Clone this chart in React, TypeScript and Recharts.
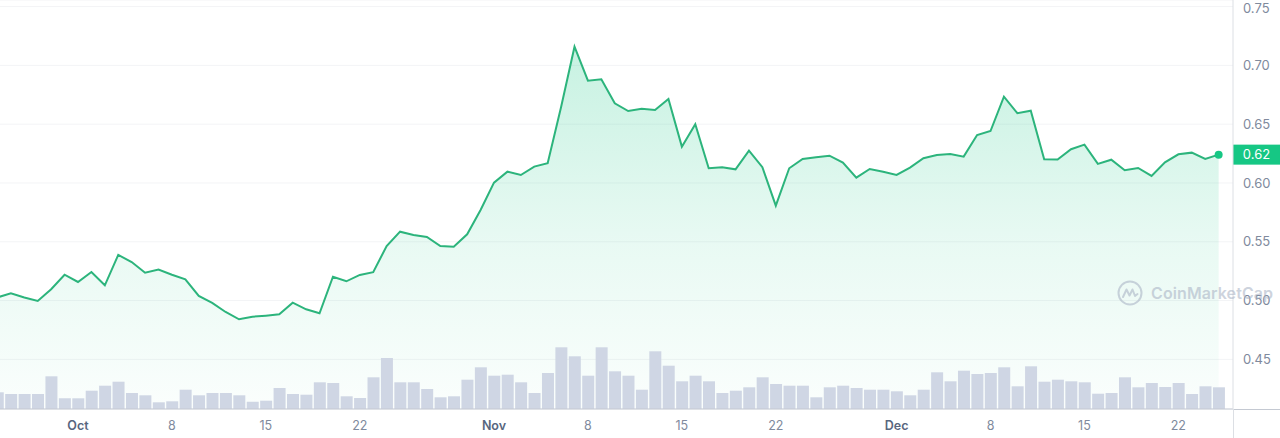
import React from 'react';
import { ComposedChart, Area, Bar, XAxis, YAxis, CartesianGrid, ReferenceLine } from 'recharts';

// Day offset relative to Oct 1 of the first data point (Sep 25)
const FIRST_DAY = -6;

// Daily closing price (USD), Sep 25 .. Dec 25
const prices: number[] = [
  0.5027, 0.5062, 0.5026, 0.4997, 0.5096, 0.522, 0.5158, 0.5243, 0.513, 0.5388,
  0.5328, 0.5237, 0.5263, 0.522, 0.5181, 0.5039, 0.498, 0.4903, 0.4841, 0.4863,
  0.4872, 0.4883, 0.4982, 0.4926, 0.4892, 0.5203, 0.5164, 0.5218, 0.5241, 0.5464,
  0.5586, 0.5558, 0.5541, 0.5464, 0.5458, 0.5564, 0.577, 0.6003, 0.6096, 0.6068,
  0.6139, 0.6168, 0.6646, 0.7159, 0.687, 0.6882, 0.6678, 0.6612, 0.6632, 0.6621,
  0.6714, 0.6309, 0.6499, 0.6125, 0.6134, 0.6116, 0.6275, 0.6134, 0.5807, 0.6125,
  0.6204, 0.6219, 0.6232, 0.6174, 0.6045, 0.6119, 0.6096, 0.6068, 0.613, 0.621,
  0.6238, 0.6247, 0.6224, 0.6408, 0.6442, 0.6734, 0.6593, 0.6615, 0.6202, 0.62,
  0.6287, 0.6326, 0.6162, 0.6198, 0.6108, 0.6128, 0.606, 0.6176, 0.6244, 0.6258,
  0.6204, 0.6241,
];

// Daily traded volume (relative units), Sep 25 .. Dec 25
const volumes: number[] = [
  16.7, 15, 15, 15, 32.7, 10.7, 10.7, 18.3, 23.3, 27.3,
  16, 13.7, 6.7, 7.7, 19.3, 13.7, 16, 16, 13.7, 7.3,
  8.3, 21, 15, 14.3, 26.7, 26, 12.7, 11, 31.7, 51,
  26.7, 26.7, 20, 11.7, 12.7, 29.3, 41.7, 33.3, 34.3, 26.7,
  16, 36, 61.7, 52.7, 33.3, 61.7, 37.7, 33.3, 19.3, 57.7,
  43.3, 27.7, 33.3, 27.7, 16, 18.3, 21.7, 31.7, 25, 23.3,
  23.3, 11.7, 21.7, 23.3, 21, 19.3, 19.3, 17.7, 13.7, 19.3,
  36.7, 27.7, 38.3, 35, 36, 41.7, 22.7, 42.7, 27.3, 29.3,
  27.7, 26.7, 15.3, 16, 31.7, 21.7, 26, 22, 26, 15,
  22.7, 21.7,
];

const tickDays: number[] = [0, 7, 14, 21, 31, 38, 45, 52, 61, 68, 75, 82];
const tickLabels: string[] = ['Oct', '8', '15', '22', 'Nov', '8', '15', '22', 'Dec', '8', '15', '22'];
const monthLabels: string[] = ['Oct', 'Nov', 'Dec'];
const priceTicks: number[] = [0.45, 0.5, 0.55, 0.6, 0.65, 0.7, 0.75];

const data = prices.map((p, i) => ({ t: FIRST_DAY + i, price: p, volume: volumes[i] }));
const lastIndex = data.length - 1;
const lastPrice = prices[lastIndex];

const GREEN = '#16c784';
const LINE = '#2cb47c';

const XTick = (props: any) => {
  const { x, y, payload } = props;
  const idx = tickDays.indexOf(payload.value);
  const label = idx >= 0 ? tickLabels[idx] : '';
  const isMonth = monthLabels.includes(label);
  return (
    <text
      x={x}
      y={y}
      dy={13}
      textAnchor="middle"
      fill={isMonth ? '#58667e' : '#808a9d'}
      fontWeight={isMonth ? 600 : 400}
      fontSize={12.5}
      fontFamily="Inter, sans-serif"
    >
      {label}
    </text>
  );
};

const PriceTag = (props: any) => {
  const { viewBox } = props;
  if (!viewBox) return null;
  const x0 = viewBox.x + viewBox.width;
  const yc = viewBox.y;
  return (
    <g>
      <rect x={x0} y={yc - 10} width={47} height={20} fill={GREEN} />
      <text
        x={x0 + 23.5}
        y={yc}
        dy="0.355em"
        textAnchor="middle"
        fill="#ffffff"
        fontSize={13}
        fontFamily="Inter, sans-serif"
      >
        {lastPrice.toFixed(2)}
      </text>
    </g>
  );
};

const renderDot = (props: any) => {
  const { cx, cy, index } = props;
  if (index !== lastIndex) return <g key={`d${index}`} />;
  return <circle key={`d${index}`} cx={cx} cy={cy} r={4} fill={GREEN} stroke="none" />;
};

export default function App() {
  return (
    <div style={{ position: 'absolute', left: 0, top: 0, width: 1280, height: 438, background: '#fff', fontFamily: 'Inter, sans-serif' }}>
      <ComposedChart
        width={1280}
        height={438}
        data={data}
        margin={{ top: 0, right: 0, bottom: 0, left: 0 }}
      >
        <defs>
          <linearGradient id="priceFill" x1="0" y1="0" x2="0" y2="1">
            <stop offset="0%" stopColor={GREEN} stopOpacity={0.4} />
            <stop offset="55%" stopColor={GREEN} stopOpacity={0.16} />
            <stop offset="100%" stopColor={GREEN} stopOpacity={0.03} />
          </linearGradient>
        </defs>
        <CartesianGrid yAxisId="p" vertical={false} stroke="#f3f4f6" />
        <XAxis
          dataKey="t"
          type="number"
          domain={[-5.812, 86.07]}
          allowDataOverflow
          ticks={tickDays}
          interval={0}
          tick={<XTick />}
          tickLine={false}
          axisLine={{ stroke: '#c4c9d2' }}
          height={29}
        />
        <YAxis
          yAxisId="p"
          orientation="right"
          domain={[0.4078, 0.7556]}
          allowDataOverflow
          ticks={priceTicks}
          tickFormatter={(v: number) => v.toFixed(2)}
          tickLine={false}
          tickMargin={4}
          axisLine={{ stroke: '#dcdfe4' }}
          tick={{ fill: '#808a9d', fontSize: 13, fontFamily: 'Inter, sans-serif' }}
          width={47}
        />
        <YAxis yAxisId="v" hide domain={[0, 409]} />
        <Area
          yAxisId="p"
          type="linear"
          dataKey="price"
          stroke={LINE}
          strokeWidth={2}
          fill="url(#priceFill)"
          baseValue="dataMin"
          dot={renderDot}
          activeDot={false}
          isAnimationActive={false}
        />
        <Bar
          yAxisId="v"
          dataKey="volume"
          fill="#cfd6e4"
          barSize={12}
          isAnimationActive={false}
        />
        <ReferenceLine yAxisId="p" y={lastPrice} stroke="none" label={<PriceTag />} />
      </ComposedChart>
      <div style={{ position: 'absolute', left: 1233, top: 409, width: 47, height: 1, background: '#c4c9d2' }} />
      <div style={{ position: 'absolute', left: 1232.5, top: 409, width: 1, height: 29, background: '#dcdfe4' }} />
      <div
        style={{
          position: 'absolute',
          left: 1117,
          top: 280,
          height: 26,
          display: 'flex',
          alignItems: 'center',
          gap: 8,
          opacity: 0.55,
          pointerEvents: 'none',
        }}
      >
        <svg width={26} height={26} viewBox="0 0 26 26">
          <circle cx={13} cy={13} r={11.5} fill="none" stroke="#a6b0c3" strokeWidth={2} />
          <path d="M6 17 L9.5 9.5 L12.5 15.5 L15.5 9.5 L18 16 L20.5 14" fill="none" stroke="#a6b0c3" strokeWidth={2} strokeLinejoin="round" strokeLinecap="round" />
        </svg>
        <span style={{ fontSize: 16, fontWeight: 600, color: '#a6b0c3', letterSpacing: 0.1 }}>CoinMarketCap</span>
      </div>
    </div>
  );
}
